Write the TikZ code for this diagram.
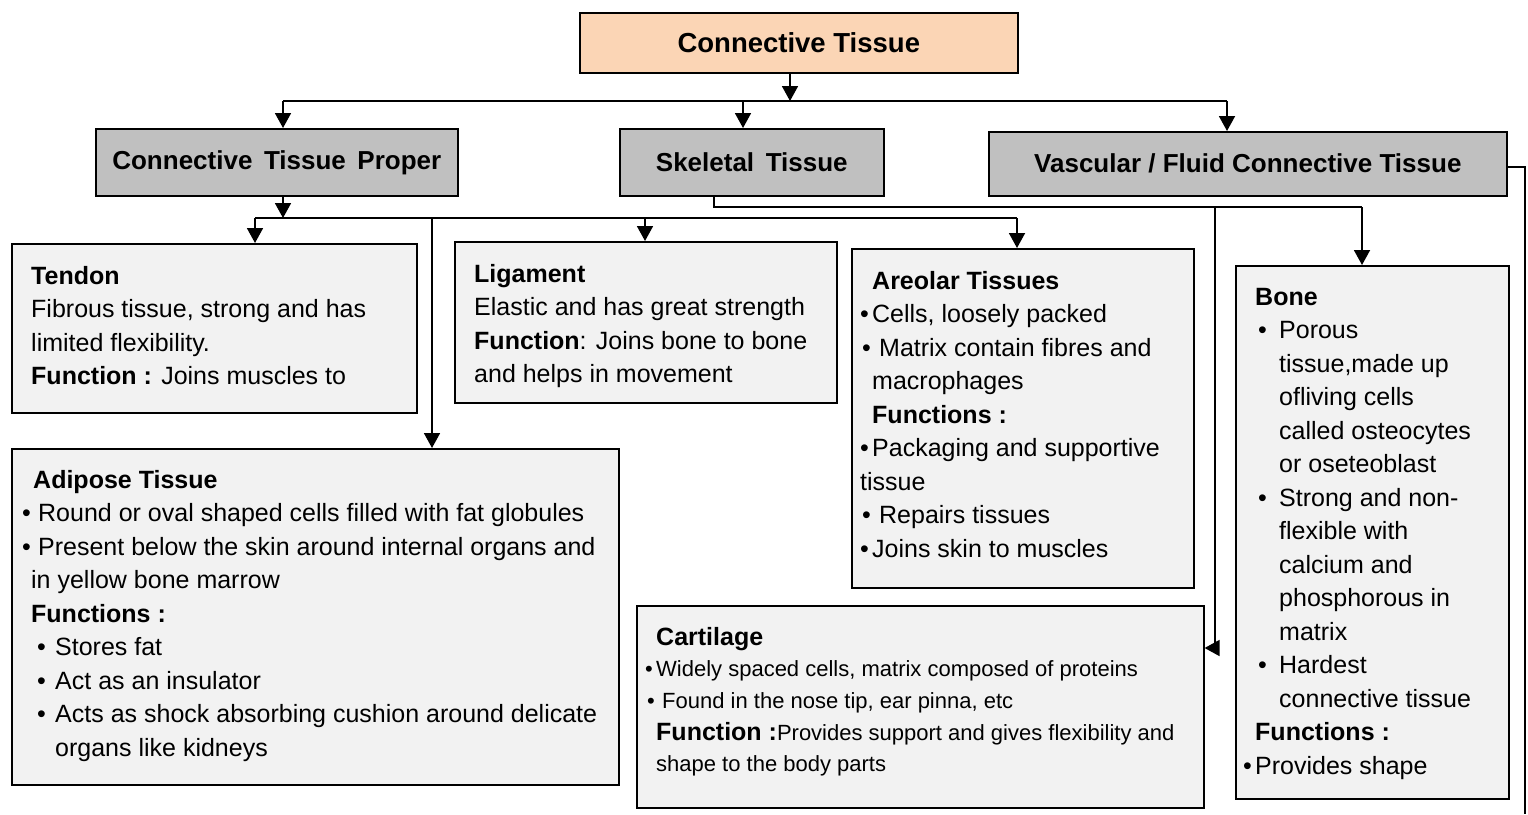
\documentclass[tikz,border=0pt]{standalone}
\usepackage{fontspec}
\setmainfont{Liberation Sans}
\usetikzlibrary{arrows.meta}
\newcommand\blk[1]{\vtop{\halign{##\hfil\cr#1\crcr}}}
\newcommand\bul[1]{\makebox[#1][l]{•}}
\definecolor{peachfill}{RGB}{251,213,181}
\definecolor{greyfill}{RGB}{192,192,192}
\definecolor{infofill}{RGB}{242,242,242}
\begin{document}
\begin{tikzpicture}[x=1pt,y=-1pt,
  boxbase/.style={draw=black, line width=1.6pt, inner sep=0pt, anchor=north west},
  peachbox/.style={boxbase, fill=peachfill, font=\bfseries\fontsize{27.5}{30}\selectfont},
  greybox/.style={boxbase, fill=greyfill, font=\bfseries\fontsize{26}{30}\selectfont},
  infobox/.style={boxbase, fill=infofill},
  ln/.style={line width=1.8pt},
  arr/.style={line width=1.8pt, -{Triangle[length=15pt,width=16pt]}},
  bodytxt/.style={inner sep=0pt, anchor=base west, font=\fontsize{25}{33.5}\selectfont},
  smalltxt/.style={inner sep=0pt, anchor=base west, font=\fontsize{22}{31.7}\selectfont}
]
\useasboundingbox (0,0) rectangle (1528,814);
\fill[white] (0,0) rectangle (1528,814);

% boxes
\node[peachbox, minimum width=438pt, minimum height=60pt] (title) at (579,12) {Connective Tissue};
\node[greybox, minimum width=362pt, minimum height=67pt] (ctp) at (95,128) {Connective\, Tissue\, Proper};
\node[greybox, minimum width=264pt, minimum height=67pt] (skel) at (619,128) {Skeletal\, Tissue};
\node[greybox, minimum width=518pt, minimum height=64pt] (vasc) at (988,131) {Vascular / Fluid Connective Tissue};

\node[infobox, minimum width=405pt, minimum height=169pt] (tendon) at (11,243) {};
\node[infobox, minimum width=382pt, minimum height=161pt] (lig) at (454,241) {};
\node[infobox, minimum width=342pt, minimum height=339pt] (areolar) at (851,248) {};
\node[infobox, minimum width=273pt, minimum height=533pt] (bone) at (1235,265) {};
\node[infobox, minimum width=607pt, minimum height=336pt] (adipose) at (11,448) {};
\node[infobox, minimum width=567pt, minimum height=202pt] (cart) at (636,605) {};

% connectors level 1
\coordinate (jt) at (790,101);
\coordinate (hL) at (283,101);
\coordinate (hS) at (743,101);
\coordinate (hR) at (1227,101);
\draw[arr] (title.south -| jt) -- (jt);
\draw[ln] (hL) -- (hR);
\draw[arr] (hL) -- (hL |- ctp.north);
\draw[arr] (hS) -- (hS |- skel.north);
\draw[arr] (hR) -- (hR |- vasc.north);

% connective tissue proper
\coordinate (jc) at (283,218);
\coordinate (h2L) at (255,218);
\coordinate (h2A) at (432,218);
\coordinate (h2G) at (645,218);
\coordinate (h2R) at (1017,218);
\draw[arr] (ctp.south -| jc) -- (jc);
\draw[ln] (h2L) -- (h2R);
\draw[arr] (h2L) -- (h2L |- tendon.north);
\draw[arr] (h2A) -- (h2A |- adipose.north);
\draw[arr] (h2G) -- (h2G |- lig.north);
\draw[arr] (h2R) -- (h2R |- areolar.north);

% skeletal tissue
\coordinate (s1) at (714,207);
\coordinate (s2) at (1362,207);
\coordinate (s3) at (1215,207);
\coordinate (s4) at (1215,648);
\draw[ln] (skel.south -| s1) -- (s1) -- (s2);
\draw[arr] (s2) -- (s2 |- bone.north);
\draw[arr] (s3) -- (s4) -- (s4 -| cart.east);

% vascular
\coordinate (v1) at (1525,167);
\coordinate (v2) at (1525,814);
\draw[line width=1.2pt] (vasc.east |- v1) -- (v1) -- (v2);

% texts
\node[bodytxt] (tendonT) at (31,284) {\blk{\textbf{Tendon}\cr
Fibrous tissue, strong and has\cr
limited flexibility.\cr
\textbf{Function :} Joins muscles to}};

\node[bodytxt] (ligT) at (474,282) {\blk{\textbf{Ligament}\cr
Elastic and has great strength\cr
\textbf{Function}: Joins bone to bone\cr
and helps in movement}};

\node[bodytxt] (areolarT) at (860,289) {\blk{\hspace*{12pt}\textbf{Areolar Tissues}\cr
\bul{12pt}Cells, loosely packed\cr
\hspace*{2pt}\bul{17pt}Matrix contain fibres and\cr
\hspace*{12pt}macrophages\cr
\hspace*{12pt}\textbf{Functions :}\cr
\bul{12pt}Packaging and supportive\cr
tissue\cr
\hspace*{2pt}\bul{17pt}Repairs tissues\cr
\bul{12pt}Joins skin to muscles}};

\node[bodytxt] (boneT) at (1243,305) {\blk{\hspace*{12pt}\textbf{Bone}\cr
\hspace*{15pt}\bul{21pt}Porous\cr
\hspace*{36pt}tissue,made up\cr
\hspace*{36pt}ofliving cells\cr
\hspace*{36pt}called osteocytes\cr
\hspace*{36pt}or oseteoblast\cr
\hspace*{15pt}\bul{21pt}Strong and non-\cr
\hspace*{36pt}flexible with\cr
\hspace*{36pt}calcium and\cr
\hspace*{36pt}phosphorous in\cr
\hspace*{36pt}matrix\cr
\hspace*{15pt}\bul{21pt}Hardest\cr
\hspace*{36pt}connective tissue\cr
\hspace*{12pt}\textbf{Functions :}\cr
\bul{12pt}Provides shape}};

\node[bodytxt] (adiposeT) at (22,488) {\blk{\hspace*{11pt}\textbf{Adipose Tissue}\cr
\bul{16pt}Round or oval shaped cells filled with fat globules\cr
\bul{16pt}Present below the skin around internal organs and\cr
\hspace*{9pt}in yellow bone marrow\cr
\hspace*{9pt}\textbf{Functions :}\cr
\hspace*{15pt}\bul{18pt}Stores fat\cr
\hspace*{15pt}\bul{18pt}Act as an insulator\cr
\hspace*{15pt}\bul{18pt}Acts as shock absorbing cushion around delicate\cr
\hspace*{33pt}organs like kidneys}};

\node[smalltxt] (cartT) at (645,645) {\blk{\hspace*{11pt}{\fontsize{25}{31.7}\selectfont\bfseries Cartilage}\cr
\bul{11pt}Widely spaced cells, matrix composed of proteins\cr
\hspace*{2pt}\bul{15pt}Found in the nose tip, ear pinna, etc\cr
\hspace*{11pt}{\fontsize{25}{31.7}\selectfont\bfseries Function :}Provides support and gives flexibility and\cr
\hspace*{11pt}shape to the body parts}};
\end{tikzpicture}
\end{document}
